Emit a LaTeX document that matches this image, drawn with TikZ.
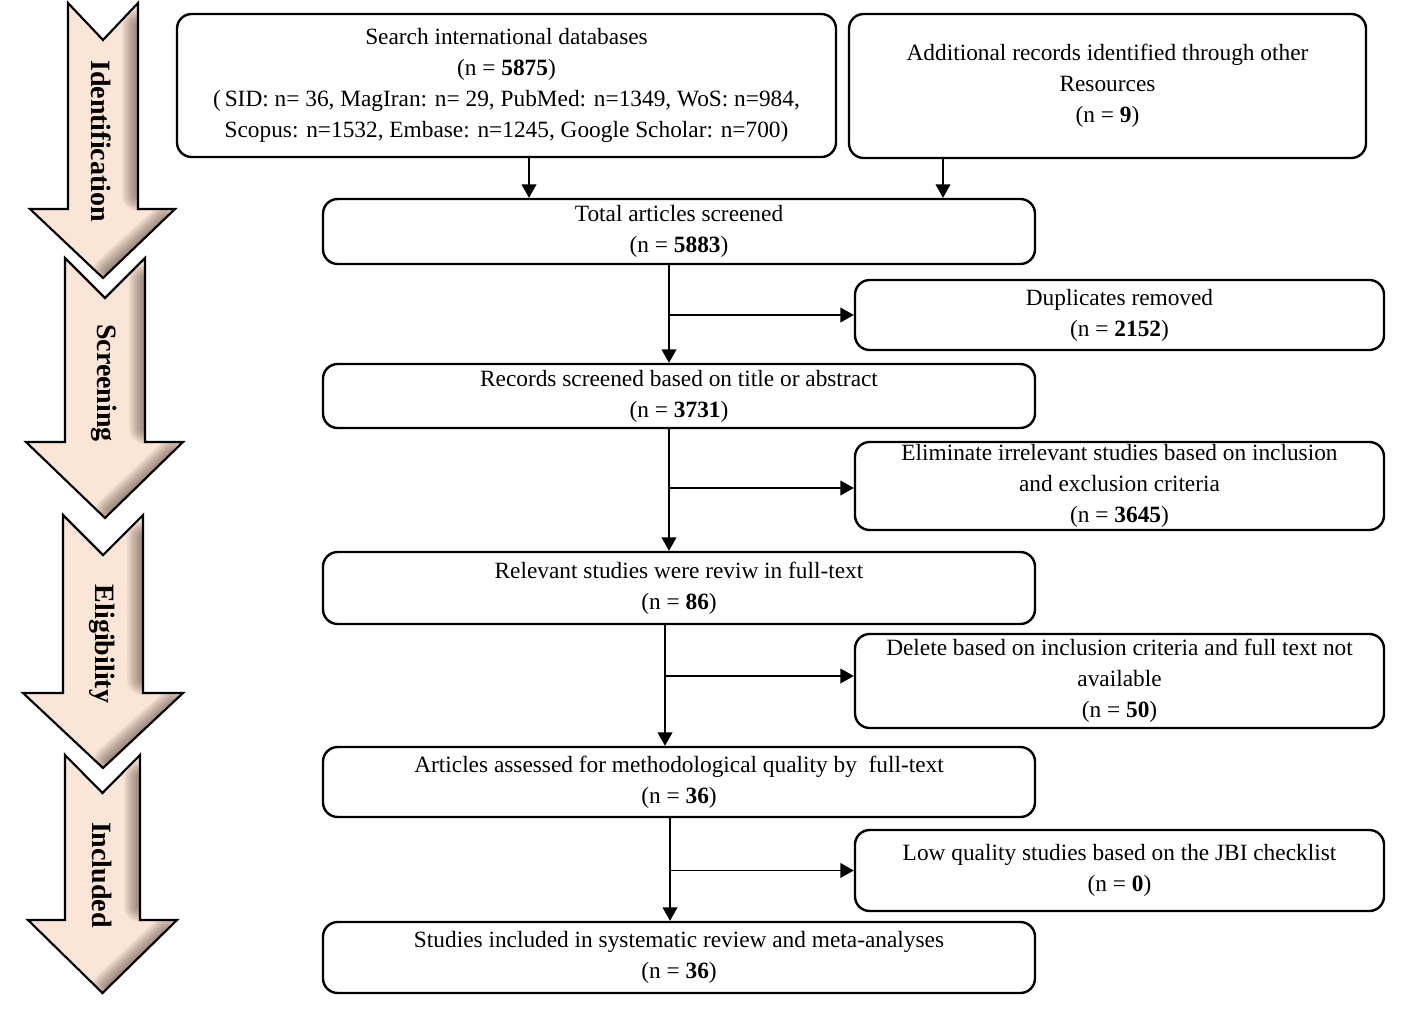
\documentclass[tikz,border=0pt]{standalone}
\usepackage{fontspec}
\setmainfont{Liberation Serif}
\usetikzlibrary{arrows.meta}
\definecolor{peach}{HTML}{FBE5D6}
\definecolor{bevel}{HTML}{4A3C34}
\newcommand\phasearrow[8]{%
  % #1 shaft left, #2 shaft right, #3 top, #4 notch, #5 shoulder, #6 head left, #7 head right, #8 tip
  \path[fill=peach] (#1,#3) -- ({(#1+#2)/2},#4) -- (#2,#3) -- (#2,#5) -- (#7,#5) -- ({(#1+#2)/2},#8) -- (#6,#5) -- (#1,#5) -- cycle;
  \begin{scope}
    \clip (#1,#3) -- ({(#1+#2)/2},#4) -- (#2,#3) -- (#2,#5) -- (#7,#5) -- ({(#1+#2)/2},#8) -- (#6,#5) -- (#1,#5) -- cycle;
    \foreach \w in {32,29,...,2}{
      \draw[bevel, opacity=0.065, line width=\w*0.75pt, line cap=round]
        (#2,{#3+22}) -- (#2,{#5-14}) ({#7-10},{#5+12}) -- ({(#1+#2)/2+6},{#8-6});
    }
  \end{scope}
  \draw[line width=1.6pt, line join=miter] (#1,#3) -- ({(#1+#2)/2},#4) -- (#2,#3) -- (#2,#5) -- (#7,#5) -- ({(#1+#2)/2},#8) -- (#6,#5) -- (#1,#5) -- cycle;
}
\begin{document}
\begin{tikzpicture}[x=0.75pt,y=-0.75pt,
  box/.style 2 args={draw, line width=1.8pt, rounded corners=11pt,
    minimum width=#1*0.75pt, minimum height=#2*0.75pt, inner sep=0pt,
    align=center, font=\fontsize{17.5}{23.25}\selectfont},
  conn/.style={line width=1pt, -{Triangle[width=11pt,length=10pt]}},
  phase/.style={rotate=-90, inner sep=0pt, font=\bfseries\fontsize{21}{21}\selectfont}]
\useasboundingbox (0,0) rectangle (1406,1017);

% phase arrows
\phasearrow{68}{138}{3}{40}{209}{30}{175}{278}
\phasearrow{65}{145}{258}{298}{442}{26}{183}{518}
\phasearrow{63}{143}{515}{555}{693}{23}{183}{768}
\phasearrow{65}{140}{755}{793}{920}{28}{177}{993}
\node[phase] (pid) at (101,141) {Identification};
\node[phase] (psc) at (104,383) {Screening};
\node[phase] (pel) at (102,644) {Eligibility};
\node[phase] (pin) at (102,875) {Included};

% boxes
\node[box={659}{143}] (search) at (506.5,85.5) {Search international databases\\(n = \textbf{5875})\\(\,SID: n= 36, MagIran: n= 29, PubMed: n=1349, WoS: n=984,\\Scopus: n=1532, Embase: n=1245, Google Scholar: n=700)};
\node[box={517}{144}] (addl) at (1107.5,86) {Additional records identified through other\\Resources\\(n = \textbf{9})};
\node[box={712}{65}] (total) at (679,231.5) {Total articles screened\\(n = \textbf{5883})};
\node[box={529}{70}] (dup) at (1119.5,315) {Duplicates removed\\(n = \textbf{2152})};
\node[box={712}{64}] (records) at (679,396) {Records screened based on title or abstract\\(n = \textbf{3731})};
\node[box={529}{88}] (elim) at (1119.5,486) {Eliminate irrelevant studies based on inclusion\\and exclusion criteria\\(n = \textbf{3645})};
\node[box={712}{72}] (relev) at (679,588) {Relevant studies were reviw in full-text\\(n = \textbf{86})};
\node[box={529}{94}] (del) at (1119.5,681) {Delete based on inclusion criteria and full text not\\available\\(n = \textbf{50})};
\node[box={712}{70}] (artic) at (679,782) {Articles assessed for methodological quality by\ \ full-text\\(n = \textbf{36})};
\node[box={529}{81}] (low) at (1119.5,870.5) {Low quality studies based on the JBI checklist\\(n = \textbf{0})};
\node[box={712}{71}] (incl) at (679,957.5) {Studies included in systematic review and meta-analyses\\(n = \textbf{36})};

% connector columns
\coordinate (xa) at (529,0);
\coordinate (xb) at (943,0);
\coordinate (xc) at (669,0);
\coordinate (xd) at (665,0);
\coordinate (xe) at (670,0);

\draw[conn] (search.south -| xa) -- (total.north -| xa);
\draw[conn] (addl.south -| xb) -- (total.north -| xb);
\draw[conn] (total.south -| xc) -- (records.north -| xc);
\draw[conn] (xc |- dup.west) -- (dup.west);
\draw[conn] (records.south -| xc) -- (relev.north -| xc);
\draw[conn] ([yshift=-1.5pt]xc |- elim.west) -- ([yshift=-1.5pt]elim.west);
\draw[conn] (relev.south -| xd) -- (artic.north -| xd);
\draw[conn] ([yshift=3.75pt]xd |- del.west) -- ([yshift=3.75pt]del.west);
\draw[conn] (artic.south -| xe) -- (incl.north -| xe);
\draw[conn] (xe |- low.west) -- (low.west);
\end{tikzpicture}
\end{document}
